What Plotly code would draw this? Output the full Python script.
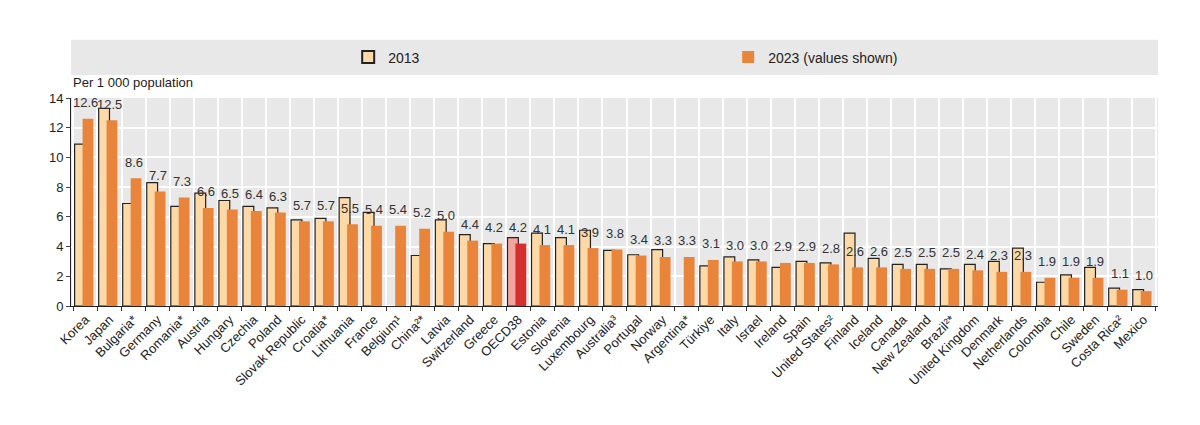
import plotly.graph_objects as go

countries = ["Korea", "Japan", "Bulgaria*", "Germany", "Romania*", "Austria", "Hungary", "Czechia",
             "Poland", "Slovak Republic", "Croatia*", "Lithuania", "France", "Belgium¹", "China²*",
             "Latvia", "Switzerland", "Greece", "OECD38", "Estonia", "Slovenia", "Luxembourg",
             "Australia³", "Portugal", "Norway", "Argentina*", "Türkiye", "Italy", "Israel", "Ireland",
             "Spain", "United States²", "Finland", "Iceland", "Canada", "New Zealand", "Brazil²*",
             "United Kingdom", "Denmark", "Netherlands", "Colombia", "Chile", "Sweden", "Costa Rica²",
             "Mexico"]
v2023 = [12.6, 12.5, 8.6, 7.7, 7.3, 6.6, 6.5, 6.4, 6.3, 5.7, 5.7, 5.5, 5.4, 5.4, 5.2, 5.0, 4.4, 4.2,
         4.2, 4.1, 4.1, 3.9, 3.8, 3.4, 3.3, 3.3, 3.1, 3.0, 3.0, 2.9, 2.9, 2.8, 2.6, 2.6, 2.5, 2.5, 2.5,
         2.4, 2.3, 2.3, 1.9, 1.9, 1.9, 1.1, 1.0]
v2013 = [10.9, 13.3, 6.9, 8.3, 6.7, 7.6, 7.1, 6.7, 6.6, 5.8, 5.9, 7.3, 6.3, None, 3.4, 5.8, 4.8, 4.2,
         4.6, 4.9, 4.6, 5.1, 3.75, 3.45, 3.8, None, 2.7, 3.3, 3.1, 2.6, 3.0, 2.9, 4.9, 3.2, 2.8, 2.8,
         2.5, 2.8, 3.0, 3.9, 1.6, 2.1, 2.6, 1.2, 1.1]

c13 = ["#f2a59c" if c == "OECD38" else "#fdd9a8" for c in countries]
c23 = ["#d42f2f" if c == "OECD38" else "#e8853a" for c in countries]

fig = go.Figure()
fig.add_trace(go.Bar(x=countries, y=v2013, name="2013", marker=dict(color=c13, line=dict(color="#222", width=1.2)),
                     width=0.45, offset=-0.45))
fig.add_trace(go.Bar(x=countries, y=v2023, name="2023 (values shown)", marker=dict(color=c23, line=dict(width=0)),
                     width=0.45, offset=-0.12))

for c, v in zip(countries, v2023):
    fig.add_annotation(x=c, y=v, text=f"{v:.1f}", showarrow=False, yshift=16, xshift=0,
                       font=dict(size=13, color="#333"))

fig.add_shape(type="rect", xref="paper", yref="paper", x0=0, x1=1, y0=1.11, y1=1.28,
              fillcolor="#e8e8e8", line=dict(width=0), layer="below")
fig.add_annotation(text="Per 1 000 population", xref="paper", yref="paper", x=-0.0, y=1.03,
                   xanchor="left", yanchor="bottom", showarrow=False, font=dict(size=13, color="#222"))

fig.update_layout(
    width=1200, height=425, barmode="overlay",
    margin=dict(l=63, r=50, t=90, b=127),
    paper_bgcolor="white", plot_bgcolor="#e8e8e8",
    font=dict(family="Liberation Sans, Arial", size=13, color="#222"),
    legend=dict(orientation="h", x=0.255, y=1.195, xanchor="left", yanchor="middle",
                bgcolor="rgba(0,0,0,0)", itemsizing="constant", traceorder="normal",
                entrywidth=335, font=dict(size=14)),
    xaxis=dict(tickangle=-45, tickson="boundaries", showgrid=True, gridcolor="white", gridwidth=2,
               ticks="outside", ticklen=4, tickcolor="#333", showline=True, linecolor="#222",
               range=[-0.6, len(countries) - 0.4], tickfont=dict(size=13)),
    yaxis=dict(range=[0, 14], dtick=2, showgrid=True, gridcolor="white", gridwidth=2,
               showline=True, linecolor="#222", ticks="outside", ticklen=4, tickfont=dict(size=13)),
)
fig.write_html("out.html")
